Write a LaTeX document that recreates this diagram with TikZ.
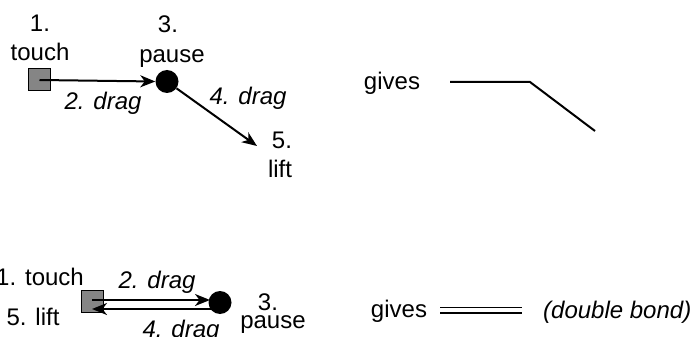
\documentclass[tikz,border=0pt]{standalone}
\usepackage{fontspec}
\setmainfont{Liberation Sans}
\usetikzlibrary{arrows.meta}
\begin{document}
\begin{tikzpicture}[x=1pt,y=-1pt,
  lbl/.style={inner sep=0pt, anchor=base, font=\fontsize{24}{27}\selectfont},
  ilbl/.style={lbl, font=\fontsize{24}{27}\selectfont\itshape},
  touchbox/.style={draw, fill=black!48, minimum size=22pt, inner sep=0pt, line width=1pt},
  pausedot/.style={circle, fill=black, minimum size=23pt, inner sep=0pt},
  dragarrow/.style={line width=2pt, -{Stealth[length=15pt,width=12pt,inset=4.5pt]}},
  bond/.style={line width=2pt}]
\useasboundingbox (0,0) rectangle (694,337);

% single gesture: touch, drag, pause, drag, lift
\node[touchbox] (t1) at (39.5,80) {};
\node[pausedot] (p1) at (167,81.5) {};
\coordinate (l1) at (257,146);
\draw[dragarrow] (t1.center) -- (p1.west);
\draw[dragarrow] (p1) -- (l1);
\node[lbl] (n1) at (40,32) {1.};
\node[lbl] (n1b) at (40,61) {touch};
\node[lbl] (n3) at (168,33) {3.};
\node[lbl] (n3b) at (172,63) {pause};
\node[ilbl] (d2) at (103,110) {2. drag};
\node[ilbl] (d4) at (248,105) {4. drag};
\node[lbl] (n5) at (282,148) {5.};
\node[lbl] (n5b) at (280,177) {lift};

% resulting bent single bond
\node[lbl] (g1) at (392,90) {gives};
\coordinate (b1) at (450,82);
\coordinate (b2) at (530,82);
\coordinate (b3) at (595,131);
\draw[bond] (b1) -- (b2) -- (b3);

% back-and-forth gesture
\node[touchbox] (t2) at (92.5,301.5) {};
\node[pausedot] (p2) at (220,302.5) {};
\coordinate (t2a) at (92,300);
\coordinate (t2b) at (92,309);
\coordinate (p2a) at (210,300);
\coordinate (p2b) at (212,309);
\draw[dragarrow] (t2a) -- (p2a);
\draw[dragarrow] (p2b) -- (t2b);
\node[lbl] (m1) at (40,285) {1. touch};
\node[lbl] (m5) at (33,325) {5. lift};
\node[ilbl] (e2) at (157,288) {2. drag};
\node[ilbl] (e4) at (181,337) {4. drag};
\node[lbl] (m3) at (268,310) {3.};
\node[lbl] (m3b) at (273,328) {pause};

% resulting double bond
\node[lbl] (g2) at (399,317) {gives};
\coordinate (c1) at (440,307.5);
\coordinate (c2) at (522,307.5);
\coordinate (c3) at (440,313);
\coordinate (c4) at (522,313);
\draw[line width=1.5pt] (c1) -- (c2);
\draw[line width=1.5pt] (c3) -- (c4);
\node[ilbl, anchor=base west] (db) at (543,318) {(double bond)};
\end{tikzpicture}
\end{document}
